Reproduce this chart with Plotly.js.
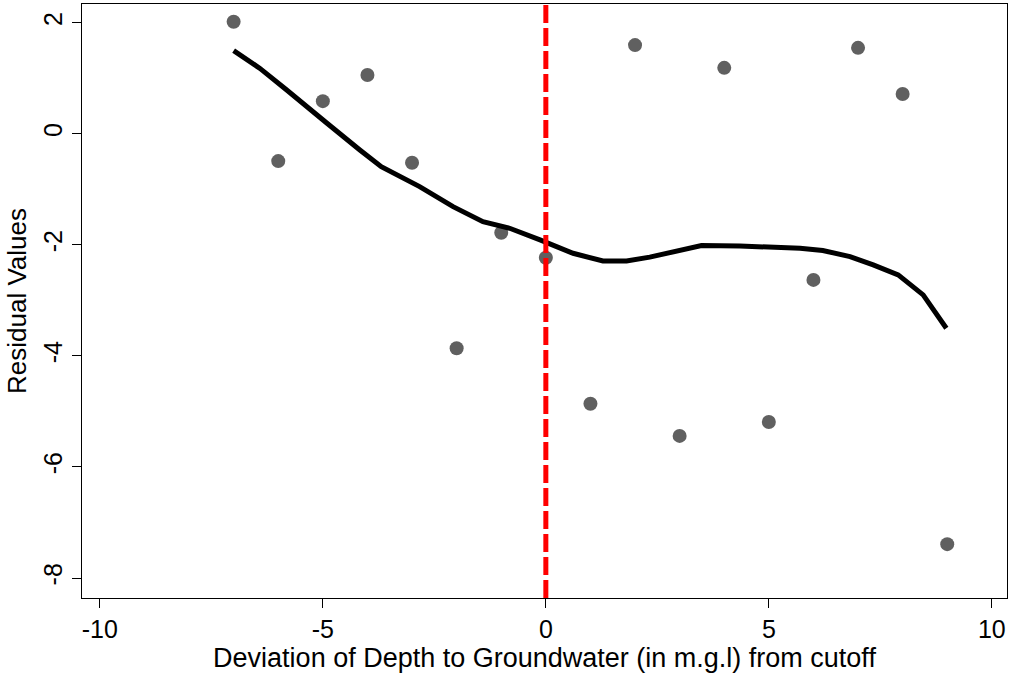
<!DOCTYPE html>
<html>
<head>
<meta charset="utf-8">
<script src="https://cdn.plot.ly/plotly-3.0.1.min.js"></script>
<style>html,body{margin:0;padding:0;background:#fff;}#chart{width:1013px;height:675px;}</style>
</head>
<body>
<div id="chart"></div>
<script>
const pointX = [-7, -6, -5, -4, -3, -2, -1, 0, 1, 2, 3, 4, 5, 6, 7, 8, 9];
const pointY = [2.02, -0.49, 0.59, 1.06, -0.52, -3.86, -1.78, -2.23, -4.86, 1.60, -5.44, 1.19, -5.19, -2.63, 1.55, 0.72, -7.39];

const smoothX = [-7, -6.41, -5.81, -5.22, -4.92, -4.17, -3.69, -2.83, -2.08, -1.41, -0.81, -0.13, 0.31, 0.61, 1.28, 1.81, 2.33, 3.0, 3.49, 4.35, 5.70, 6.21, 6.82, 7.34, 7.9, 8.46, 8.98];
const smoothY = [1.50, 1.18, 0.79, 0.38, 0.20, -0.29, -0.59, -0.95, -1.31, -1.58, -1.70, -1.91, -2.06, -2.15, -2.29, -2.29, -2.22, -2.09, -2.01, -2.02, -2.06, -2.10, -2.21, -2.36, -2.54, -2.90, -3.50];

const cutoff = 0;
const xTicks = [-10, -5, 0, 5, 10];
const yTicks = [-8, -6, -4, -2, 0, 2];

const font = {family: 'Liberation Sans, Arial, sans-serif', size: 26, color: '#000'};
const xTitleFont = {family: 'Liberation Sans, Arial, sans-serif', size: 27, color: '#000'};
const tickFont = {family: 'Liberation Sans, Arial, sans-serif', size: 25, color: '#000'};

const data = [
  {
    x: pointX, y: pointY, type: 'scatter', mode: 'markers',
    marker: {color: '#606060', size: 14},
    hoverinfo: 'x+y', showlegend: false
  },
  {
    x: smoothX, y: smoothY, type: 'scatter', mode: 'lines',
    line: {color: '#000', width: 5},
    showlegend: false
  }
];

const layout = {
  width: 1013, height: 675,
  margin: {l: 82, r: 6, t: 4, b: 77},
  paper_bgcolor: '#fff', plot_bgcolor: '#fff',
  font: font,
  showlegend: false,
  xaxis: {
    range: [-10.40, 10.34],
    tickvals: xTicks, ticktext: xTicks.map(String),
    ticks: 'outside', ticklen: 9, tickwidth: 1, tickcolor: '#000',
    showgrid: false, zeroline: false,
    showline: true, linecolor: '#000', linewidth: 1, mirror: true,
    tickfont: tickFont,
    title: {text: 'Deviation of Depth to Groundwater (in m.g.l) from cutoff', font: xTitleFont, standoff: 0}
  },
  yaxis: {
    range: [-8.36, 2.34],
    tickvals: yTicks, ticktext: yTicks.map(String),
    tickangle: -90,
    ticks: 'outside', ticklen: 9, tickwidth: 1, tickcolor: '#000',
    showgrid: false, zeroline: false,
    showline: true, linecolor: '#000', linewidth: 1, mirror: true,
    tickfont: tickFont,
    title: {text: 'Residual Values', font: font, standoff: 4}
  },
  shapes: [
    {
      type: 'line', xref: 'x', yref: 'paper',
      x0: cutoff, x1: cutoff, y0: 0, y1: 1,
      line: {color: '#ff0000', width: 5, dash: '18px,5px'}
    }
  ]
};

Plotly.newPlot('chart', data, layout, {displayModeBar: false, staticPlot: true});
</script>
</body>
</html>
